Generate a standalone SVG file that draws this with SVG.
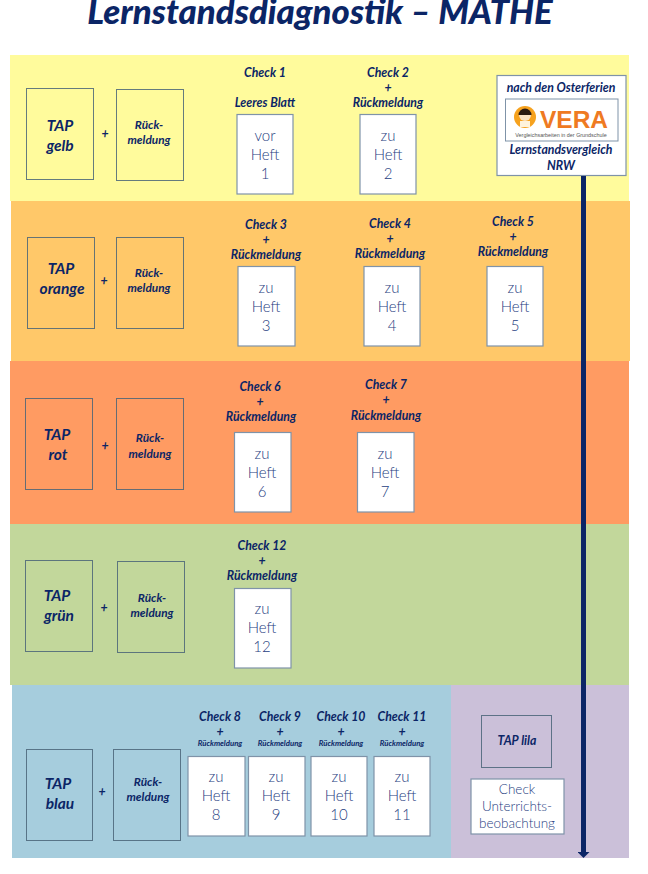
<svg xmlns="http://www.w3.org/2000/svg" width="648" height="874" viewBox="0 0 648 874">
<style>
text{font-family:"Lato","Open Sans",sans-serif;font-weight:700;font-style:italic;fill:#0b2566;text-anchor:middle}
.title{font-size:34.800px;font-weight:900}
.c{font-size:12.300px}
.s{font-size:7.800px}
.t{font-size:15.500px}
.r{font-size:11.800px}
.h{font-weight:300;font-style:normal;fill:#27407f;font-size:15px}
.u{font-size:13.500px}
.b{fill:none;stroke:#4a6478;stroke-width:1;stroke-opacity:.85}
.w{fill:#fff;stroke:#7f93a8;stroke-width:1.2}
</style>
<defs><marker id="ah" markerUnits="userSpaceOnUse" markerWidth="6" markerHeight="12" refX="0" refY="6" orient="auto"><path d="M0 0L6 6L0 12Z" fill="#0b2566"/></marker></defs>
<rect width="648" height="874" fill="#fff"/>
<text class="title" x="320" y="24">Lernstandsdiagnostik – MATHE</text>
<g id="bands">
<rect x="10" y="55" width="619" height="146" fill="#fffb9c"/>
<rect x="11" y="201" width="619" height="160" fill="#ffc869"/>
<rect x="10" y="361" width="619" height="163" fill="#ff9b62"/>
<rect x="10" y="524" width="619" height="161" fill="#c2d79b"/>
<rect x="12" y="685" width="439" height="173" fill="#a6cddd"/>
<rect x="451" y="685" width="178" height="173" fill="#cbc0d9"/>
</g>
<g id="tap-gelb"><rect class="b" x="26.500" y="88.500" width="67" height="91"/><text class="t" x="60" y="131">TAP</text><text class="t" x="60" y="151">gelb</text></g>
<g id="rm-gelb"><text class="c" x="105" y="138">+</text><rect class="b" x="116.500" y="89.500" width="67" height="91"/><text class="r" x="149" y="129">Rück-</text><text class="r" x="149" y="144">meldung</text></g>
<g id="check1"><text class="c" x="265" y="77">Check 1</text><text class="c" x="265" y="107">Leeres Blatt</text><rect class="w" x="237" y="114.500" width="56" height="79.500"/><text class="h" x="265" y="141">vor</text><text class="h" x="265" y="160">Heft</text><text class="h" x="265" y="179">1</text></g>
<g id="check2"><text class="c" x="388" y="77">Check 2</text><text class="c" x="388" y="92">+</text><text class="c" x="388" y="107">Rückmeldung</text><rect class="w" x="360" y="114.500" width="56" height="79.500"/><text class="h" x="388" y="141">zu</text><text class="h" x="388" y="160">Heft</text><text class="h" x="388" y="179">2</text></g>
<g id="vera"><rect class="w" x="497" y="75.500" width="129" height="100"/><text class="c" x="561" y="92">nach den Osterferien</text><rect x="505.500" y="99" width="112.500" height="42" fill="#fff" stroke="#7f93a8"/><circle cx="525" cy="117" r="11" fill="#f6a21e"/><circle cx="525" cy="115" r="6" fill="#fbe3c5"/><path d="M518.500 115a6.500 6.500 0 0 1 13 0z" fill="#2a1a12"/><path d="M520 127v-6h10v6z" fill="#fff3dc"/><text x="574" y="128" style="font-family:'Liberation Sans',sans-serif;font-style:normal;font-weight:700;font-size:24.500px;fill:#ef7a22">VERA</text><text x="561" y="137" style="font-family:'Liberation Sans',sans-serif;font-style:normal;font-weight:400;font-size:5.400px;fill:#555">Vergleichsarbeiten in der Grundschule</text><text class="c" x="561" y="154">Lernstandsvergleich</text><text class="c" x="561" y="170">NRW</text></g>
<g id="tap-orange"><rect class="b" x="27.500" y="237.500" width="67" height="91"/><text class="t" x="61" y="274">TAP</text><text class="t" x="62" y="294">orange</text></g>
<g id="rm-orange"><text class="c" x="104" y="285">+</text><rect class="b" x="116.500" y="237.500" width="67" height="91"/><text class="r" x="149" y="277">Rück-</text><text class="r" x="149" y="292">meldung</text></g>
<g id="check3"><text class="c" x="266" y="229">Check 3</text><text class="c" x="266" y="244">+</text><text class="c" x="266" y="259">Rückmeldung</text><rect class="w" x="238" y="266.500" width="57" height="79.500"/><text class="h" x="266" y="293">zu</text><text class="h" x="266" y="312">Heft</text><text class="h" x="266" y="331">3</text></g>
<g id="check4"><text class="c" x="390" y="228">Check 4</text><text class="c" x="390" y="243">+</text><text class="c" x="390" y="258">Rückmeldung</text><rect class="w" x="364" y="266.500" width="56" height="79.500"/><text class="h" x="392" y="293">zu</text><text class="h" x="392" y="312">Heft</text><text class="h" x="392" y="331">4</text></g>
<g id="check5"><text class="c" x="513" y="226">Check 5</text><text class="c" x="513" y="241">+</text><text class="c" x="513" y="256">Rückmeldung</text><rect class="w" x="487" y="266.500" width="56" height="79.500"/><text class="h" x="515" y="293">zu</text><text class="h" x="515" y="312">Heft</text><text class="h" x="515" y="331">5</text></g>
<g id="tap-rot"><rect class="b" x="25.500" y="398.500" width="67" height="91"/><text class="t" x="57" y="440">TAP</text><text class="t" x="58" y="460">rot</text></g>
<g id="rm-rot"><text class="c" x="105" y="450">+</text><rect class="b" x="116.500" y="398.500" width="67" height="91"/><text class="r" x="150" y="442">Rück-</text><text class="r" x="150" y="458">meldung</text></g>
<g id="check6"><text class="c" x="260" y="391">Check 6</text><text class="c" x="260" y="406">+</text><text class="c" x="261" y="421">Rückmeldung</text><rect class="w" x="234.500" y="432.500" width="56.500" height="79.500"/><text class="h" x="262" y="459">zu</text><text class="h" x="262" y="478">Heft</text><text class="h" x="262" y="497">6</text></g>
<g id="check7"><text class="c" x="386" y="389">Check 7</text><text class="c" x="386" y="404">+</text><text class="c" x="386" y="420">Rückmeldung</text><rect class="w" x="357.500" y="432.500" width="56.500" height="79.500"/><text class="h" x="385" y="459">zu</text><text class="h" x="385" y="478">Heft</text><text class="h" x="385" y="497">7</text></g>
<g id="tap-gruen"><rect class="b" x="25.500" y="560.500" width="67" height="91"/><text class="t" x="57" y="601">TAP</text><text class="t" x="59" y="621">grün</text></g>
<g id="rm-gruen"><text class="c" x="104" y="612">+</text><rect class="b" x="117.500" y="561.500" width="67" height="91"/><text class="r" x="152" y="602">Rück-</text><text class="r" x="152" y="617">meldung</text></g>
<g id="check12"><text class="c" x="262" y="550">Check 12</text><text class="c" x="262" y="565">+</text><text class="c" x="262" y="580">Rückmeldung</text><rect class="w" x="234.500" y="588.500" width="56.500" height="79.500"/><text class="h" x="262" y="614">zu</text><text class="h" x="262" y="633">Heft</text><text class="h" x="262" y="652">12</text></g>
<g id="tap-blau"><rect class="b" x="26.500" y="749.500" width="66" height="91"/><text class="t" x="58" y="789">TAP</text><text class="t" x="60" y="809">blau</text></g>
<g id="rm-blau"><text class="c" x="102" y="796">+</text><rect class="b" x="113.500" y="749.500" width="67" height="91"/><text class="r" x="148" y="786">Rück-</text><text class="r" x="148" y="801">meldung</text></g>
<g id="check8"><text class="c" x="220" y="721">Check 8</text><text class="c" x="220" y="736">+</text><text class="s" x="220" y="746">Rückmeldung</text><rect class="w" x="188" y="756.500" width="57" height="79.500"/><text class="h" x="216" y="782">zu</text><text class="h" x="216" y="801">Heft</text><text class="h" x="216" y="820">8</text></g>
<g id="check9"><text class="c" x="280" y="721">Check 9</text><text class="c" x="280" y="736">+</text><text class="s" x="280" y="746">Rückmeldung</text><rect class="w" x="248.500" y="756.500" width="56.500" height="79.500"/><text class="h" x="276" y="782">zu</text><text class="h" x="276" y="801">Heft</text><text class="h" x="276" y="820">9</text></g>
<g id="check10"><text class="c" x="341" y="721">Check 10</text><text class="c" x="341" y="736">+</text><text class="s" x="341" y="746">Rückmeldung</text><rect class="w" x="311" y="756.500" width="56" height="79.500"/><text class="h" x="339" y="782">zu</text><text class="h" x="339" y="801">Heft</text><text class="h" x="339" y="820">10</text></g>
<g id="check11"><text class="c" x="402" y="721">Check 11</text><text class="c" x="402" y="736">+</text><text class="s" x="402" y="746">Rückmeldung</text><rect class="w" x="374" y="756.500" width="56" height="79.500"/><text class="h" x="402" y="782">zu</text><text class="h" x="402" y="801">Heft</text><text class="h" x="402" y="820">11</text></g>
<g id="tap-lila"><rect class="b" x="481.500" y="715.500" width="70" height="52"/><text class="c" x="517" y="745">TAP lila</text></g>
<g id="check-ub"><rect class="w" x="471" y="779" width="93" height="55"/><text class="h u" x="517" y="794">Check</text><text class="h u" x="517" y="811">Unterrichts-</text><text class="h u" x="517" y="828">beobachtung</text></g>
<g id="connectors"><path d="M583.500 176V852" fill="none" stroke="#0b2566" stroke-width="5" marker-end="url(#ah)"/></g>
</svg>
